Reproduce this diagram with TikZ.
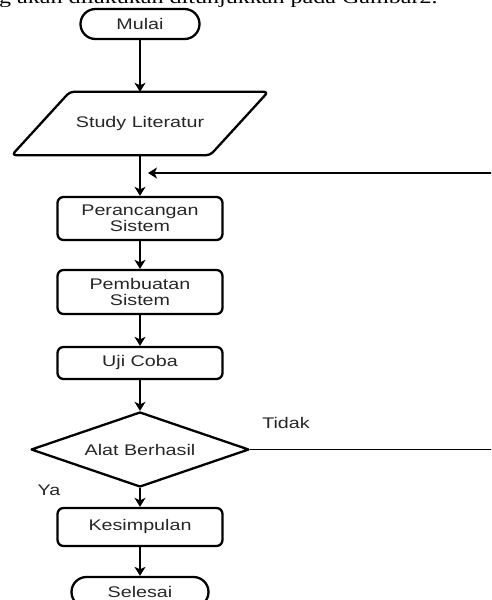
\documentclass[tikz,border=0pt]{standalone}
\usepackage{fontspec}
\setmainfont{Liberation Sans}[FakeStretch=1.28]
\newfontfamily\serifwide{Liberation Serif}[FakeStretch=1.28]
\usetikzlibrary{arrows.meta,shapes.geometric,shapes.misc}
\begin{document}
\begin{tikzpicture}[x=1pt, y=-1pt, font=\fontsize{15.4}{16.5}\selectfont, text=black!85, line join=round,
  >={Stealth[length=9pt,width=11pt,inset=2.5pt]},
  term/.style={rounded rectangle, draw, line width=2.3pt, minimum height=30pt, inner sep=0pt},
  proc/.style={rectangle, rounded corners=6pt, draw, line width=2.3pt, minimum width=165pt, align=center, inner sep=0pt},
  dec/.style={diamond, aspect=2.9, draw, line width=2.3pt, minimum width=218pt, minimum height=75pt, inner sep=0pt},
  flow/.style={->, line width=1.9pt}]
  \useasboundingbox (0,0) rectangle (491,600);
  \clip (0,0) rectangle (491,600);
  % text of the page above the chart
  \node[font=\serifwide\fontsize{18.8}{20}\selectfont, text=black, anchor=base west, inner sep=0pt] (intro) at (-1,3.5) {g akan dilakukan ditunjukkan pada Gambar2.};
  % steps
  \node[term, minimum width=119pt] (mulai) at (140,24) {Mulai};
  \node[minimum width=198pt, minimum height=63pt, inner sep=0pt] (studi) at (140,123.5) {Study Literatur};
  \draw[line width=2.3pt, rounded corners=4pt] ([xshift=29pt]studi.north west) -- ([xshift=29pt]studi.north east)
    -- ([xshift=-29pt]studi.south east) -- ([xshift=-29pt]studi.south west) -- cycle;
  \node[proc, minimum height=43pt] (rancang) at (140,218.5) {Perancangan\\Sistem};
  \node[proc, minimum height=44pt] (buat) at (140,292) {Pembuatan\\Sistem};
  \node[proc, minimum height=32pt] (uji) at (140,363) {Uji Coba};
  \node[dec] (cek) at (140,449.5) {Alat Berhasil};
  \node[proc, minimum height=38pt] (simpul) at (140,527) {Kesimpulan};
  \node[term, minimum width=137pt] (selesai) at (140,592) {Selesai};
  \coordinate (balik) at (148,173);
  \node (ya) at (49,490) {Ya};
  \node (tidak) at (286,423) {Tidak};
  % arrows
  \draw[flow] (mulai) -- (studi);
  \draw[flow] (studi) -- (rancang);
  \draw[flow] (rancang) -- (buat);
  \draw[flow] (buat) -- (uji);
  \draw[flow] (uji) -- (cek);
  \draw[flow] (cek) -- (simpul);
  \draw[flow] (simpul) -- (selesai);
  \draw[flow] (cek.east) -- ++(260,0) |- (balik);
\end{tikzpicture}
\end{document}
